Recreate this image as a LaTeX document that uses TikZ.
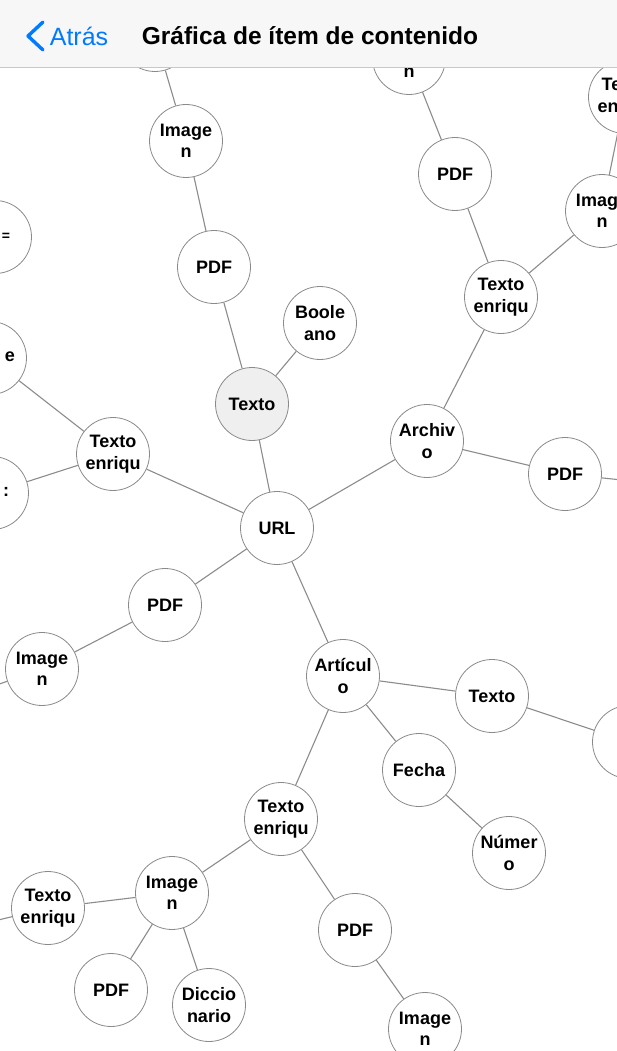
\documentclass[tikz,border=0pt]{standalone}
\usepackage{fontspec}
\setmainfont{Liberation Sans}
\usetikzlibrary{positioning}
\definecolor{lineagris}{HTML}{8C8C8C}
\definecolor{bordegris}{HTML}{8A8A8A}
\definecolor{rellenogris}{HTML}{EFEFEF}
\definecolor{barrafondo}{HTML}{F7F7F7}
\definecolor{barralinea}{HTML}{C8C8C8}
\definecolor{azulios}{HTML}{007AFF}
\begin{document}
\begin{tikzpicture}[x=1pt, y=-1pt,
            nodo/.style={circle, draw=bordegris, line width=0.8pt, fill=white, minimum size=73pt, inner sep=0pt, align=center, font=\bfseries\fontsize{18}{21.5}\selectfont},
            actual/.style={nodo, fill=rellenogris},
            trozo/.style={inner sep=0pt, font=\bfseries\fontsize{18}{21.5}\selectfont},
            enlace/.style={draw=lineagris, line width=1.1pt}
        ]
            \useasboundingbox (0,0) rectangle (617,1051);
            \fill[white] (0,0) rectangle (617,1051);

            % Rama superior izquierda
            \node[nodo] (img_sup) at (155, 35) {};
            \node[nodo] (img_a) at (186, 141) {Image\\n};
            \node[nodo] (pdf_a) at (214, 267) {PDF};
            \node[actual] (texto) at (252, 404) {Texto};
            \node[nodo] (boole) at (320, 323) {Boole\\ano};

            % Centro
            \node[nodo] (url) at (277, 528) {URL};

            % Rama izquierda
            \node[nodo] (enr_izq) at (113, 454) {Texto\\enriqu};
            \node[nodo] (borde1) at (-5, 237) {};
            \node[trozo] (frag1) at (6, 237) {\fontsize{14}{14}\selectfont =};
            \node[nodo] (borde2) at (-10, 358) {};
            \node[trozo] (frag2) at (10, 357) {e};
            \node[nodo] (borde3) at (-8, 493) {};
            \node[trozo] (frag3) at (6, 492) {:};

            % Rama derecha superior
            \node[nodo] (archivo) at (427, 441) {Archiv\\o};
            \node[nodo] (pdf_der) at (565, 474) {PDF};
            \node[nodo] (enr_der) at (501, 297) {Texto\\enriqu};
            \node[nodo] (pdf_b) at (455, 174) {PDF};
            \node[nodo] (img_top) at (409, 58) {};
            \node[trozo] (frag4) at (409, 73) {n};
            \node[nodo] (img_der) at (602, 211) {Image\\n};
            \node[nodo] (enr_esq) at (625, 97) {Texto\\enriqu};

            % Rama izquierda inferior
            \node[nodo] (pdf_c) at (165, 605) {PDF};
            \node[nodo] (img_izq) at (42, 669) {Image\\n};

            % Rama de Artículo
            \node[nodo] (articulo) at (343, 676) {Artícul\\o};
            \node[nodo] (texto_b) at (492, 696) {Texto};
            \node[nodo] (borde4) at (629, 742) {};
            \node[nodo] (fecha) at (419, 770) {Fecha};
            \node[nodo] (numero) at (509, 853) {Númer\\o};
            \node[nodo] (enr_inf) at (281, 819) {Texto\\enriqu};
            \node[nodo] (img_inf) at (172, 893) {Image\\n};
            \node[nodo] (enr_abj) at (48, 908) {Texto\\enriqu};
            \node[nodo] (pdf_d) at (111, 990) {PDF};
            \node[nodo] (dicc) at (209, 1005) {Diccio\\nario};
            \node[nodo] (pdf_e) at (355, 930) {PDF};
            \node[nodo] (img_fin) at (425, 1029) {Image\\n};

            % Extremos fuera del marco
            \coordinate (fuera_der) at (660, 484);
            \coordinate (fuera_izq) at (-60, 705);
            \coordinate (fuera_abj) at (-60, 934);

            % Enlaces
            \draw[enlace] (img_sup) -- (img_a);
            \draw[enlace] (img_a) -- (pdf_a);
            \draw[enlace] (pdf_a) -- (texto);
            \draw[enlace] (texto) -- (boole);
            \draw[enlace] (texto) -- (url);
            \draw[enlace] (url) -- (enr_izq);
            \draw[enlace] (enr_izq) -- (borde2);
            \draw[enlace] (enr_izq) -- (borde3);
            \draw[enlace] (url) -- (archivo);
            \draw[enlace] (archivo) -- (pdf_der);
            \draw[enlace] (pdf_der) -- (fuera_der);
            \draw[enlace] (archivo) -- (enr_der);
            \draw[enlace] (enr_der) -- (pdf_b);
            \draw[enlace] (pdf_b) -- (img_top);
            \draw[enlace] (enr_der) -- (img_der);
            \draw[enlace] (img_der) -- (enr_esq);
            \draw[enlace] (url) -- (pdf_c);
            \draw[enlace] (pdf_c) -- (img_izq);
            \draw[enlace] (img_izq) -- (fuera_izq);
            \draw[enlace] (url) -- (articulo);
            \draw[enlace] (articulo) -- (texto_b);
            \draw[enlace] (texto_b) -- (borde4);
            \draw[enlace] (articulo) -- (fecha);
            \draw[enlace] (fecha) -- (numero);
            \draw[enlace] (articulo) -- (enr_inf);
            \draw[enlace] (enr_inf) -- (img_inf);
            \draw[enlace] (enr_inf) -- (pdf_e);
            \draw[enlace] (pdf_e) -- (img_fin);
            \draw[enlace] (img_inf) -- (enr_abj);
            \draw[enlace] (enr_abj) -- (fuera_abj);
            \draw[enlace] (img_inf) -- (pdf_d);
            \draw[enlace] (img_inf) -- (dicc);

            % Barra de navegación
            \fill[barrafondo] (0,0) rectangle (617,67);
            \draw[barralinea, line width=0.8pt] (0,67) -- (617,67);
            \draw[azulios, line width=3.4pt, line cap=round, line join=round] (43,22) -- (28,36) -- (43,50);
            \node[text=azulios, font=\fontsize{25}{25}\selectfont] (atras) at (79, 36) {Atrás};
            \node[font=\bfseries\fontsize{24.5}{25}\selectfont] (titulo) at (310, 36) {Gráfica de ítem de contenido};

        \end{tikzpicture}
\end{document}
